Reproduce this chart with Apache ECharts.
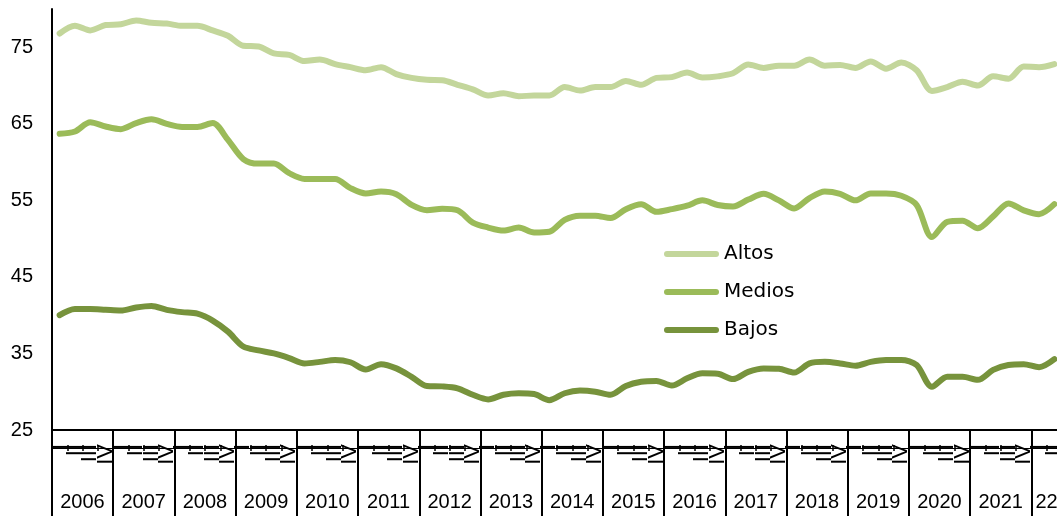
<!DOCTYPE html>
<html>
<head>
<meta charset="utf-8">
<script src="https://cdn.jsdelivr.net/npm/echarts@6/dist/echarts.min.js"></script>
<style>
  html, body { margin: 0; padding: 0; background: #fff; }
  #chart { width: 1057px; height: 516px; }
</style>
</head>
<body>
<div id="chart"></div>
<script>
// años visibles en el eje (el último aparece recortado en el original)
var years = ["2006", "2007", "2008", "2009", "2010", "2011", "2012", "2013", "2014",
  "2015", "2016", "2017", "2018", "2019", "2020", "2021", "22"];
var quarterNames = ["I", "II", "III", "IV"];
var yTicks = [25, 35, 45, 55, 65, 75];

// series trimestrales 2006-I .. 2022-II
var altos = [76.8, 77.8, 77.2, 77.9, 78.0, 78.5, 78.2, 78.1, 77.8, 77.8, 77.2, 76.5,
  75.2, 75.1, 74.2, 74.0, 73.2, 73.4, 72.8, 72.4, 72.0, 72.4, 71.5, 71.0,
  70.75, 70.7, 70.1, 69.5, 68.7, 69.0, 68.6, 68.7, 68.7, 69.8, 69.35, 69.8,
  69.8, 70.6, 70.1, 71.0, 71.1, 71.7, 71.05, 71.2, 71.6, 72.75, 72.3, 72.6,
  72.6, 73.4, 72.6, 72.7, 72.3, 73.15, 72.2, 73.0, 72.0, 69.3, 69.8, 70.5,
  70.0, 71.2, 70.9, 72.5, 72.4, 72.8];
var medios = [63.7, 64.0, 65.2, 64.65, 64.3, 65.1, 65.6, 65.0, 64.6, 64.6, 65.1, 62.9,
  60.4, 59.8, 59.8, 58.55, 57.8, 57.8, 57.8, 56.6, 55.9, 56.15, 55.8, 54.4,
  53.7, 53.9, 53.7, 52.1, 51.45, 51.05, 51.45, 50.8, 50.9, 52.45, 53.0, 53.0,
  52.7, 53.85, 54.5, 53.5, 53.85, 54.3, 55.0, 54.4, 54.2, 55.1, 55.85, 55.0,
  53.95, 55.3, 56.15, 55.85, 55.0, 55.9, 55.9, 55.6, 54.4, 50.2, 52.2, 52.35,
  51.35, 52.9, 54.6, 53.7, 53.2, 54.5];
var bajos = [40.0, 40.8, 40.8, 40.7, 40.6, 41.0, 41.2, 40.7, 40.4, 40.2, 39.3, 37.85,
  35.9, 35.4, 35.0, 34.4, 33.7, 33.9, 34.15, 33.85, 32.9, 33.6, 33.05, 31.95,
  30.75, 30.7, 30.45, 29.6, 29.0, 29.6, 29.8, 29.7, 28.9, 29.8, 30.15, 30.0,
  29.6, 30.75, 31.3, 31.4, 30.8, 31.75, 32.4, 32.35, 31.65, 32.6, 33.05, 33.0,
  32.5, 33.7, 33.9, 33.7, 33.4, 33.9, 34.15, 34.15, 33.5, 30.65, 31.95, 31.95,
  31.55, 32.85, 33.5, 33.6, 33.2, 34.25];

var n = altos.length;
var categories = [];
years.forEach(function (y) {
  quarterNames.forEach(function (q) { categories.push(y + "|" + q); });
});
categories = categories.slice(0, n);

// índice donde cae el centro de cada año (etiqueta desplazada media banda)
var yearLabelIdx = {};
for (var s = 0; s < n; s += 4) {
  var c = Math.min(4, n - s);
  yearLabelIdx[s + c / 2 - 1] = true;
}

var black = "#000";
var numFont = "Liberation Sans";
var hiddenLine = { show: true, lineStyle: { color: "rgba(0,0,0,0)", width: 0 } };

var chart = echarts.init(document.getElementById("chart"));
var option = {
  animation: false,
  grid: { left: 52, top: 9, width: 1010, height: 421, outerBoundsMode: "none", containLabel: false },
  legend: {
    orient: "vertical",
    left: 664,
    top: 244,
    padding: 0,
    itemWidth: 55,
    itemHeight: 6,
    itemGap: 18,
    icon: "path://M3 0H52A3 3 0 0 1 52 6H3A3 3 0 0 1 3 0Z",
    textStyle: { fontFamily: "DejaVu Sans", fontSize: 20, color: black, lineHeight: 20 },
    data: ["Altos", "Medios", "Bajos"]
  },
  xAxis: [
    {
      type: "category",
      data: categories,
      boundaryGap: true,
      axisLine: { show: true, lineStyle: { color: black, width: 2 } },
      axisTick: { show: false },
      axisLabel: {
        interval: 0,
        rotate: 90,
        margin: 14,
        fontFamily: numFont,
        fontSize: 22,
        color: black,
        formatter: function (v) { return v.split("|")[1]; }
      }
    },
    {
      type: "category",
      data: categories,
      position: "bottom",
      offset: 18,
      axisLine: { show: true, lineStyle: { color: black, width: 1.2 } },
      axisTick: { show: false },
      axisLabel: { show: false }
    },
    {
      type: "category",
      data: categories,
      position: "bottom",
      offset: 15,
      axisLine: hiddenLine,
      axisTick: { show: true, interval: 0, length: 6, lineStyle: { color: black, width: 1.5 } },
      axisLabel: { show: false }
    },
    {
      type: "category",
      data: categories,
      position: "bottom",
      offset: 0,
      axisLine: hiddenLine,
      axisTick: {
        show: true,
        interval: function (i) { return i % 4 === 0; },
        length: 86,
        lineStyle: { color: black, width: 2 }
      },
      axisLabel: {
        interval: function (i) { return !!yearLabelIdx[i]; },
        margin: 62,
        padding: [0, 0, 0, 15],
        fontFamily: numFont,
        fontSize: 20,
        color: black,
        formatter: function (v) { return v.split("|")[0]; }
      }
    }
  ],
  yAxis: {
    type: "value",
    min: 25,
    max: 80,
    interval: 10,
    axisLine: { show: true, lineStyle: { color: black, width: 2 } },
    axisTick: { show: false },
    splitLine: { show: false },
    axisLabel: {
      showMaxLabel: false,
      margin: 19,
      fontFamily: numFont,
      fontSize: 20,
      color: black,
      formatter: function (v) { return yTicks.indexOf(v) >= 0 ? String(v) : ""; }
    }
  },
  series: [
    { name: "Altos", type: "line", data: altos, smooth: 0.3, symbol: "none",
      itemStyle: { color: "#C3D69B" }, lineStyle: { color: "#C3D69B", width: 6, cap: "round" } },
    { name: "Medios", type: "line", data: medios, smooth: 0.3, symbol: "none",
      itemStyle: { color: "#9BBB59" }, lineStyle: { color: "#9BBB59", width: 6, cap: "round" } },
    { name: "Bajos", type: "line", data: bajos, smooth: 0.3, symbol: "none",
      itemStyle: { color: "#77933C" }, lineStyle: { color: "#77933C", width: 6, cap: "round" } }
  ]
};
chart.setOption(option);
</script>
</body>
</html>
